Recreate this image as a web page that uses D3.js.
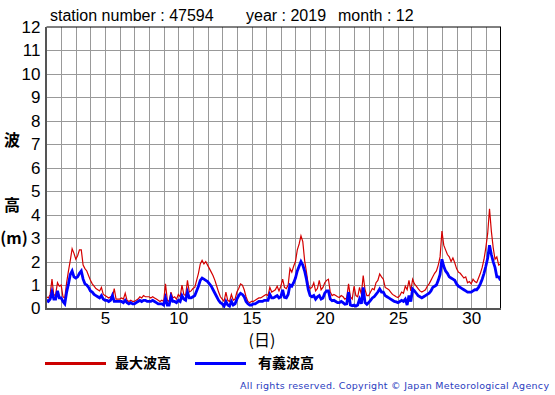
<!DOCTYPE html>
<html><head><meta charset="utf-8">
<script src="https://cdn.jsdelivr.net/npm/d3@7"></script>
<style>body{margin:0;background:#fff}svg{display:block}</style>
</head><body>
<script>
// Title info
const station = "47594", year = "2019", month = "12";
// 3-hourly samples, days 1..31 (8 per day) plus end point at day 32
const maxWave = [
0.5,0.45,0.6,1.25,0.55,0.6,1.1,0.95,
1.0,0.5,0.45,1.1,1.6,2.05,2.55,2.35,
2.1,2.25,2.5,2.5,1.85,1.7,1.6,1.4,
1.2,1.05,0.95,0.85,0.8,0.75,0.9,0.6,
0.55,0.5,0.45,0.5,0.45,0.85,0.4,0.4,
0.4,0.45,0.4,0.65,0.35,0.3,0.35,0.3,
0.3,0.35,0.4,0.5,0.45,0.55,0.5,0.5,
0.5,0.45,0.5,0.45,0.4,0.35,0.3,0.35,
0.3,1.05,0.35,0.3,0.7,0.45,0.5,0.4,
0.6,0.5,1.0,0.6,0.55,1.2,0.7,0.75,
0.85,0.9,1.2,1.5,1.9,2.05,1.9,2.0,
1.85,1.7,1.55,1.4,1.2,0.95,0.7,0.5,
0.4,0.3,0.7,0.35,0.3,0.6,0.35,0.4,
0.7,0.85,1.05,1.0,0.8,0.5,0.3,0.25,
0.3,0.3,0.35,0.4,0.45,0.45,0.5,0.55,
0.6,0.55,0.9,0.7,0.75,0.8,0.95,0.75,
0.95,1.25,0.9,0.85,1.0,1.7,1.55,1.8,
2.0,2.5,2.75,3.1,2.85,2.05,1.55,1.0,
0.85,0.9,1.1,0.75,0.85,1.2,0.8,0.9,
1.1,1.2,1.25,0.7,0.55,0.6,0.55,0.5,
0.47,0.55,0.5,0.4,0.45,1.05,0.5,0.4,
0.95,0.55,0.5,0.9,0.6,1.4,0.8,0.55,
0.55,0.7,0.85,0.8,1.1,1.2,1.47,1.35,
1.25,0.9,0.85,0.8,0.7,0.6,0.55,0.5,
0.47,0.55,0.7,0.65,0.95,0.8,1.2,0.75,
1.25,1.05,0.95,0.85,0.75,0.7,0.75,0.8,
0.95,1.05,1.2,1.35,1.5,1.6,1.85,2.2,
3.3,2.7,2.5,2.3,2.2,2.0,2.15,1.95,
1.7,1.55,1.5,1.4,1.3,1.35,1.1,1.15,
1.05,1.25,1.15,1.1,1.3,1.5,1.75,2.1,
2.6,3.2,4.25,3.3,2.6,2.1,2.2,1.85,
1.9];
const sigWave = [
0.35,0.3,0.4,0.7,0.4,0.4,0.75,0.45,
0.45,0.3,0.2,0.7,1.05,1.45,1.6,1.35,
1.3,1.35,1.5,1.6,1.25,1.05,1.0,0.9,
0.75,0.7,0.6,0.55,0.5,0.45,0.55,0.4,
0.35,0.35,0.3,0.35,0.55,0.3,0.3,0.3,
0.3,0.3,0.25,0.35,0.25,0.2,0.25,0.2,
0.2,0.25,0.3,0.35,0.3,0.35,0.35,0.3,
0.3,0.3,0.35,0.3,0.25,0.2,0.2,0.2,
0.15,0.45,0.15,0.15,0.5,0.3,0.3,0.25,
0.35,0.3,0.55,0.4,0.35,0.7,0.45,0.45,
0.5,0.55,0.75,0.95,1.2,1.3,1.25,1.2,
1.15,1.05,0.95,0.8,0.65,0.5,0.35,0.25,
0.2,0.1,0.3,0.15,0.1,0.3,0.15,0.2,
0.4,0.55,0.65,0.6,0.5,0.3,0.2,0.15,
0.15,0.2,0.2,0.25,0.3,0.3,0.3,0.35,
0.35,0.35,0.6,0.45,0.45,0.5,0.55,0.45,
0.5,0.8,0.47,0.45,0.6,1.0,0.95,1.1,
1.3,1.6,1.8,2.0,1.85,1.6,1.25,0.8,
0.55,0.5,0.55,0.4,0.5,0.55,0.4,0.45,
0.65,0.75,0.75,0.4,0.33,0.35,0.3,0.25,
0.25,0.3,0.25,0.18,0.2,0.7,0.15,0.12,
0.15,0.1,0.15,0.4,0.2,0.9,0.25,0.18,
0.25,0.35,0.45,0.5,0.6,0.7,0.83,0.7,
0.7,0.55,0.5,0.45,0.4,0.35,0.3,0.28,
0.25,0.3,0.35,0.3,0.4,0.15,0.55,0.3,
0.83,0.75,0.65,0.55,0.5,0.45,0.5,0.55,
0.6,0.65,0.75,0.9,0.95,1.0,1.2,1.45,
2.1,1.8,1.6,1.5,1.35,1.3,1.25,1.2,
1.05,0.95,0.9,0.85,0.8,0.75,0.7,0.7,
0.7,0.75,0.8,0.8,0.9,1.05,1.25,1.5,
1.8,2.15,2.7,2.3,2.0,1.75,1.35,1.35,
1.2];
const samplesPerDay = 8;
const yTicks = [0,1,2,3,4,5,6,7,8,9,10,11,12];
const xTicks = [5,10,15,20,25,30];
const legendLabels = ["最大波高", "有義波高"];
const copyright = "All rights reserved. Copyright © Japan Meteorological Agency";

const W = 555, H = 395;
const L = 46.5, R = 500.5, T = 27, B = 308.5;
const svg = d3.select("body").append("svg").attr("width", W).attr("height", H);
const x = d3.scaleLinear().domain([1, 32]).range([L, R]);
const y = d3.scaleLinear().domain([0, 12]).range([B, T]);
const latin = "'Liberation Sans', Arial, sans-serif";
const cjk = "'Noto Sans CJK JP', sans-serif";

// grid
const g = svg.append("g");
g.selectAll("line.v").data(d3.range(2, 32)).join("line")
  .attr("x1", d => Math.round(x(d)) + 0.5).attr("x2", d => Math.round(x(d)) + 0.5)
  .attr("y1", T).attr("y2", B).attr("stroke", "#999").attr("stroke-width", 1);
g.selectAll("line.h").data(yTicks.slice(1, -1)).join("line")
  .attr("x1", L).attr("x2", R)
  .attr("y1", d => Math.round(y(d)) + 0.5).attr("y2", d => Math.round(y(d)) + 0.5)
  .attr("stroke", "#999").attr("stroke-width", 1);

// data lines
svg.append("clipPath").attr("id", "clip").append("rect")
  .attr("x", L).attr("y", T).attr("width", R - L).attr("height", B - T);
const line = d3.line().x((d, i) => x(1 + i / samplesPerDay)).y(d => y(d));
svg.append("path").datum(maxWave).attr("clip-path", "url(#clip)")
  .attr("d", line).attr("fill", "none").attr("stroke", "#d40000").attr("stroke-width", 1.2);
svg.append("path").datum(sigWave).attr("clip-path", "url(#clip)")
  .attr("d", line).attr("fill", "none").attr("stroke", "#0000ff").attr("stroke-width", 2.8);

// frame
svg.append("line").attr("x1", L).attr("x2", R + 0.5).attr("y1", T).attr("y2", T).attr("stroke", "#000");
svg.append("line").attr("x1", R).attr("x2", R).attr("y1", T).attr("y2", B).attr("stroke", "#000");
svg.append("line").attr("x1", L - 0.5).attr("x2", L - 0.5).attr("y1", T).attr("y2", B + 1).attr("stroke", "#555").attr("stroke-width", 2);
svg.append("line").attr("x1", L - 1.5).attr("x2", R + 0.5).attr("y1", B + 0.5).attr("y2", B + 0.5).attr("stroke", "#555").attr("stroke-width", 2);

// axes tick labels
const yAxis = d3.axisLeft(y).tickValues(yTicks).tickSize(0).tickPadding(5);
const ya = svg.append("g").attr("transform", `translate(${L - 1},0)`).call(yAxis);
ya.select(".domain").remove();
ya.selectAll("text").attr("font-family", latin).attr("font-size", 17).attr("fill", "#000");
const xAxis = d3.axisBottom(x).tickValues(xTicks).tickSize(0).tickPadding(3);
const xa = svg.append("g").attr("transform", `translate(0,${B})`).call(xAxis);
xa.select(".domain").remove();
xa.selectAll("text").attr("font-family", latin).attr("font-size", 17).attr("fill", "#000");

// titles
const title = svg.append("g").attr("font-family", latin).attr("font-size", 16).attr("fill", "#000");
title.append("text").attr("x", 50).attr("y", 21).text("station number : " + station);
title.append("text").attr("x", 246).attr("y", 21).text("year : " + year);
title.append("text").attr("x", 338).attr("y", 21).text("month : " + month);

// axis labels
const lab = svg.append("g").attr("font-family", cjk).attr("font-size", 16).attr("font-weight", "bold").attr("fill", "#000").attr("text-anchor", "middle");
lab.append("text").attr("x", 12).attr("y", 146).text("波");
lab.append("text").attr("x", 12).attr("y", 211).text("高");
lab.append("text").attr("x", 14).attr("y", 244).text("(m)");
lab.append("text").attr("x", 262).attr("y", 346).attr("font-weight", "normal").attr("font-size", 16).text("(日)");

// legend
svg.append("line").attr("x1", 45).attr("x2", 106).attr("y1", 363.5).attr("y2", 363.5).attr("stroke", "#cc0000").attr("stroke-width", 3);
svg.append("line").attr("x1", 195).attr("x2", 246).attr("y1", 363.5).attr("y2", 363.5).attr("stroke", "#0000ff").attr("stroke-width", 3);
const lg = svg.append("g").attr("font-family", cjk).attr("font-size", 14).attr("font-weight", "bold").attr("fill", "#000");
lg.append("text").attr("x", 115).attr("y", 368).text(legendLabels[0]);
lg.append("text").attr("x", 258).attr("y", 368).text(legendLabels[1]);

// footer
svg.append("text").attr("x", 240).attr("y", 389).attr("font-family", "'DejaVu Sans', Verdana, sans-serif")
  .attr("font-size", 9.5).attr("fill", "#2a3cc0").attr("textLength", 309).attr("lengthAdjust", "spacing")
  .text(copyright);
</script>
</body></html>
